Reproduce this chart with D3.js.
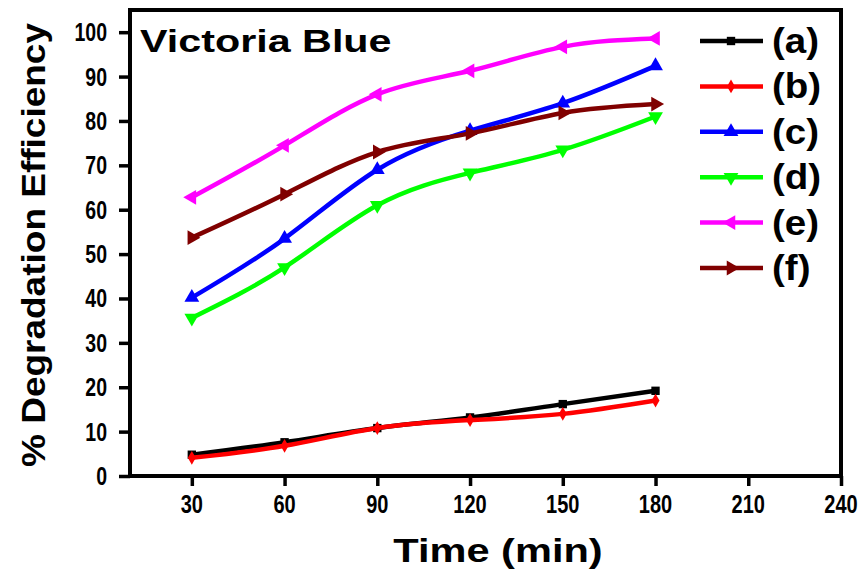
<!DOCTYPE html>
<html>
<head>
<meta charset="utf-8">
<script src="https://cdn.jsdelivr.net/npm/d3@7"></script>
<style>
  html, body { margin: 0; padding: 0; background: #fff; }
  svg { display: block; }
  text { font-family: "Liberation Sans", Arial, sans-serif; font-weight: bold; fill: #000; }
</style>
</head>
<body>
<svg id="chart" width="868" height="569"></svg>
<script>
// Degradation of Victoria Blue over time for six samples
const timeMin = [30, 60, 90, 120, 150, 180];
const seriesA = [4.8, 7.6, 10.8, 13.2, 16.2, 19.2];
const seriesB = [4.1, 6.8, 10.8, 12.6, 14.0, 17.0];
const seriesC = [40.2, 53.5, 69.0, 77.8, 84.0, 92.4];
const seriesD = [35.6, 47.0, 61.0, 68.3, 73.5, 81.0];
const seriesE = [62.8, 74.5, 86.0, 91.3, 96.7, 98.6];
const seriesF = [53.7, 63.5, 73.0, 77.2, 81.8, 83.8];
const seriesLabels = ["(a)", "(b)", "(c)", "(d)", "(e)", "(f)"];
const xTicks = [30, 60, 90, 120, 150, 180, 210, 240];
const yTicks = [0, 10, 20, 30, 40, 50, 60, 70, 80, 90, 100];

const series = [
  { label: seriesLabels[0], values: seriesA, color: "#000000", marker: "square" },
  { label: seriesLabels[1], values: seriesB, color: "#ff0000", marker: "diamond" },
  { label: seriesLabels[2], values: seriesC, color: "#0000ff", marker: "up" },
  { label: seriesLabels[3], values: seriesD, color: "#00ff00", marker: "down" },
  { label: seriesLabels[4], values: seriesE, color: "#ff00ff", marker: "left" },
  { label: seriesLabels[5], values: seriesF, color: "#800000", marker: "right" }
];

const svg = d3.select("#chart");
const plot = { left: 130, right: 841, top: 10, bottom: 476 };

const x = d3.scaleLinear().domain([10, 240]).range([plot.left, plot.right]);
const y = d3.scaleLinear().domain([0, 105]).range([plot.bottom, plot.top]);

// horizontally scaled bold text
function wideText(g, tx, ty, str, size, sx, anchor, rot) {
  return g.append("text")
    .attr("transform", `translate(${tx},${ty}) scale(${sx},1)` + (rot ? ` rotate(${rot})` : ""))
    .attr("text-anchor", anchor || "start")
    .style("font-size", size + "px")
    .text(str);
}

// Axes with outward ticks
const xAxis = d3.axisBottom(x).tickValues(xTicks).tickSize(10).tickFormat("");
const yAxis = d3.axisLeft(y).tickValues(yTicks).tickSize(11).tickFormat("");

const gx = svg.append("g").attr("transform", `translate(0,${plot.bottom})`).call(xAxis);
const gy = svg.append("g").attr("transform", `translate(${plot.left},0)`).call(yAxis);
[gx, gy].forEach(g => {
  g.select(".domain").remove();
  g.selectAll(".tick line").attr("stroke", "#000").attr("stroke-width", 3.5);
});

// Tick labels (condensed digits)
const labels = svg.append("g");
xTicks.forEach(t => wideText(labels, x(t), 513, String(t), 25, 0.8, "middle"));
yTicks.forEach(t => wideText(labels, 107, y(t) + 9, String(t), 25, 0.78, "end"));

// Frame
svg.append("rect")
  .attr("x", plot.left).attr("y", plot.top)
  .attr("width", plot.right - plot.left).attr("height", plot.bottom - plot.top)
  .attr("fill", "none").attr("stroke", "#000").attr("stroke-width", 4);

// Axis titles
wideText(svg, 498, 562, "Time (min)", 33, 1.26, "middle");
wideText(svg, 45, 245, "% Degradation Efficiency", 37, 0.88, "middle", -90);

// Panel title
wideText(svg, 140, 52, "Victoria Blue", 32, 1.29, "start");

// Marker shapes
function markerPath(kind) {
  if (kind === "square") return d3.symbol().type(d3.symbolSquare).size(70)();
  if (kind === "diamond") return d3.symbol().type(d3.symbolDiamond).size(55)();
  return d3.symbol().type(d3.symbolTriangle).size(95)();
}
const rotation = { square: 0, diamond: 0, up: 0, down: 180, left: -90, right: 90 };

const line = d3.line()
  .x((d, i) => x(timeMin[i]))
  .y(d => y(d))
  .curve(d3.curveNatural);

const lines = svg.append("g");
series.forEach(s => {
  lines.append("path")
    .attr("d", line(s.values))
    .attr("fill", "none")
    .attr("stroke", s.color)
    .attr("stroke-width", 4.5)
    .attr("stroke-linejoin", "round");
  lines.selectAll(null)
    .data(s.values)
    .join("path")
    .attr("d", markerPath(s.marker))
    .attr("transform", (d, i) => `translate(${x(timeMin[i])},${y(d)}) rotate(${rotation[s.marker]})`)
    .attr("fill", s.color);
});

// Legend
const legend = svg.append("g");
series.forEach((s, i) => {
  const ly = 41 + i * 45.4;
  legend.append("line")
    .attr("x1", 700).attr("x2", 763).attr("y1", ly).attr("y2", ly)
    .attr("stroke", s.color).attr("stroke-width", 4.5);
  legend.append("path")
    .attr("d", markerPath(s.marker))
    .attr("transform", `translate(731,${ly}) rotate(${rotation[s.marker]})`)
    .attr("fill", s.color);
  wideText(legend, 772, ly + 12, s.label, 35, 1.1, "start");
});
</script>
</body>
</html>
